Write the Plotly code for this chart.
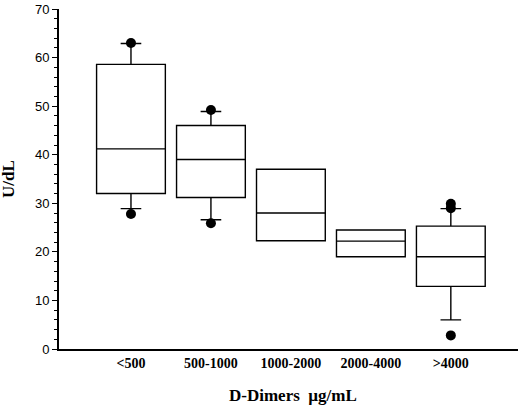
import plotly.graph_objects as go

# D-Dimer groups and box statistics (U/dL)
categories = ["<500", "500-1000", "1000-2000", "2000-4000", ">4000"]
q1 = [32.0, 31.2, 22.3, 19.0, 12.9]
medians = [41.2, 39.0, 28.0, 22.2, 19.0]
q3 = [58.6, 46.0, 37.0, 24.5, 25.3]
lower_whisker = [28.9, 26.6, 22.3, 19.0, 6.0]
upper_whisker = [62.9, 48.9, 37.0, 24.5, 28.9]

# points beyond the whiskers
outlier_groups = ["<500", "<500", "500-1000", "500-1000", ">4000", ">4000", ">4000"]
outlier_values = [63.0, 27.8, 49.2, 25.9, 29.9, 29.0, 2.8]

serif = "Liberation Serif, Times New Roman, serif"
sans = "Liberation Sans, Arial, sans-serif"

fig = go.Figure()
fig.add_trace(
    go.Box(
        x=categories,
        q1=q1,
        median=medians,
        q3=q3,
        lowerfence=lower_whisker,
        upperfence=upper_whisker,
        boxpoints=False,
        width=0.86,
        whiskerwidth=0.3,
        fillcolor="white",
        line=dict(color="black", width=1.4),
        hoverinfo="skip",
    )
)
fig.add_trace(
    go.Scatter(
        x=outlier_groups,
        y=outlier_values,
        mode="markers",
        marker=dict(color="black", size=10),
        hoverinfo="skip",
    )
)

fig.update_layout(
    width=520,
    height=406,
    margin=dict(l=59, r=2, t=5, b=57),
    paper_bgcolor="white",
    plot_bgcolor="white",
    showlegend=False,
    xaxis=dict(
        type="category",
        categoryorder="array",
        categoryarray=categories,
        range=[-0.9, 4.84],
        showline=True,
        linecolor="black",
        linewidth=1.8,
        showgrid=False,
        zeroline=False,
        ticks="",
        tickfont=dict(family=serif, size=14, color="black", weight="bold"),
    ),
    yaxis=dict(
        range=[0, 70],
        dtick=10,
        showline=True,
        linecolor="black",
        linewidth=1.8,
        showgrid=False,
        zeroline=False,
        ticks="outside",
        ticklen=5,
        tickwidth=1.2,
        tickcolor="black",
        ticklabeloverflow="allow",
        tickfont=dict(family=sans, size=13, color="black"),
        minor=dict(dtick=2, ticks="outside", ticklen=3, tickwidth=1, tickcolor="black"),
    ),
    annotations=[
        dict(
            text="U/dL",
            xref="paper", yref="paper",
            x=0, y=0.5, xshift=-51,
            xanchor="center", yanchor="middle",
            textangle=-90, showarrow=False,
            font=dict(family=serif, size=17, color="black", weight="bold"),
        ),
        dict(
            text="D-Dimers  \u00b5g/mL",
            xref="paper", yref="paper",
            x=0.5, y=0, xshift=4, yshift=-46,
            yanchor="middle", showarrow=False,
            font=dict(family=serif, size=17, color="black", weight="bold"),
        ),
    ],
)

# drop the browser's default body margin so the chart sits at the page corner
fig.write_html(
    "out.html",
    config={"displayModeBar": False},
    post_script="document.body.style.margin = '0';",
)
